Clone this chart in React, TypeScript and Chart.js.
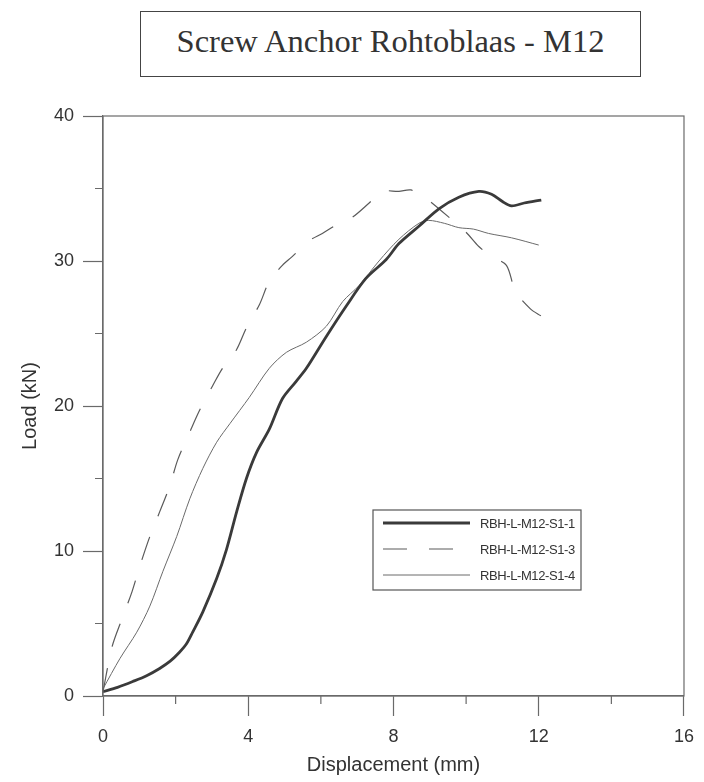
import React, { useEffect, useRef } from "react";
import { Chart, registerables } from "chart.js";

Chart.register(...registerables);

const TITLE = "Screw Anchor Rohtoblaas - M12";
const X_TITLE = "Displacement (mm)";
const Y_TITLE = "Load (kN)";

const SERIES_NAMES = ["RBH-L-M12-S1-1", "RBH-L-M12-S1-3", "RBH-L-M12-S1-4"];

const S1_1_X = [0, 0.4, 0.82, 1.2, 1.56, 1.85, 2.1, 2.3, 2.47, 2.75, 3.13, 3.4, 3.68, 3.95, 4.23, 4.58, 4.94, 5.32, 5.6, 6.15, 6.7, 7.24, 7.8, 8.15, 8.7, 9.25, 9.8, 10.35, 10.7, 11.0, 11.25, 11.6, 12.07];
const S1_1_Y = [0.3, 0.6, 1.0, 1.4, 1.9, 2.4, 3.0, 3.6, 4.4, 5.8, 8.1, 10.1, 12.7, 15.0, 16.8, 18.4, 20.5, 21.7, 22.6, 24.8, 26.9, 28.8, 30.1, 31.2, 32.4, 33.6, 34.4, 34.8, 34.6, 34.1, 33.8, 34.0, 34.2];

const S1_3_X = [0, 0.25, 0.52, 0.8, 1.02, 1.29, 1.56, 1.84, 2.06, 2.39, 2.66, 3.02, 3.29, 3.68, 3.95, 4.31, 4.58, 4.94, 5.21, 5.68, 6.04, 6.5, 6.86, 7.33, 7.68, 8.15, 8.48, 8.9, 9.25, 9.99, 10.35, 10.7, 11.11, 11.36, 11.77, 12.07];
const S1_3_Y = [0.3, 3.4, 5.3, 7.2, 9.0, 11.0, 12.7, 14.5, 16.3, 18.2, 19.7, 21.4, 22.6, 23.9, 25.4, 27.0, 28.6, 29.7, 30.3, 31.4, 31.9, 32.6, 33.0, 34.0, 34.8, 34.8, 34.9, 34.3, 33.6, 32.0, 31.0, 30.3, 29.7, 27.9, 26.7, 26.2];

const S1_4_X = [0, 0.47, 0.93, 1.29, 1.65, 2.03, 2.39, 2.75, 3.13, 3.5, 4.03, 4.58, 5.05, 5.6, 6.15, 6.6, 7.05, 7.6, 8.15, 8.7, 8.97, 9.4, 9.8, 10.2, 10.62, 11.25, 12.0];
const S1_4_Y = [0.5, 2.6, 4.4, 6.2, 8.6, 11.0, 13.6, 15.7, 17.5, 18.8, 20.6, 22.6, 23.7, 24.4, 25.5, 27.2, 28.3, 30.0, 31.5, 32.6, 32.8, 32.6, 32.3, 32.2, 31.9, 31.6, 31.1];

const X_MIN = 0, X_MAX = 16, X_STEP = 2, X_LABEL_EVERY = 4;
const Y_MIN = 0, Y_MAX = 40, Y_STEP = 5, Y_LABEL_EVERY = 10;

const pts = (xs: number[], ys: number[]) => xs.map((x, i) => ({ x, y: ys[i] }));

const AXIS_COLOR = "#6a6a6a";
const TEXT_COLOR = "#333333";
const SANS = "'Liberation Sans', Arial, sans-serif";

const framePlugin = {
  id: "frameAndLegend",
  afterDraw(chart: any) {
    const { ctx, chartArea } = chart;
    const xs = chart.scales.x;
    const ys = chart.scales.y;
    ctx.save();
    // frame
    ctx.strokeStyle = AXIS_COLOR;
    ctx.lineWidth = 1.2;
    ctx.strokeRect(chartArea.left, chartArea.top, chartArea.right - chartArea.left, chartArea.bottom - chartArea.top);
    // minor ticks
    ctx.beginPath();
    for (let v = X_MIN; v <= X_MAX; v += X_STEP) {
      if (v % X_LABEL_EVERY !== 0) {
        const px = xs.getPixelForValue(v);
        ctx.moveTo(px, chartArea.bottom);
        ctx.lineTo(px, chartArea.bottom + 8);
      }
    }
    for (let v = Y_MIN; v <= Y_MAX; v += Y_STEP) {
      if (v % Y_LABEL_EVERY !== 0) {
        const py = ys.getPixelForValue(v);
        ctx.moveTo(chartArea.left, py);
        ctx.lineTo(chartArea.left - 8, py);
      }
    }
    ctx.stroke();

    // legend
    const lx = 373, ly = 510, lw = 208, lh = 80;
    ctx.fillStyle = "#ffffff";
    ctx.fillRect(lx, ly, lw, lh);
    ctx.strokeStyle = "#555";
    ctx.lineWidth = 1.2;
    ctx.strokeRect(lx, ly, lw, lh);
    ctx.font = "13px " + SANS;
    ctx.textBaseline = "middle";
    ctx.textAlign = "left";
    try { (ctx as any).letterSpacing = "-0.4px"; } catch (e) {}
    chart.data.datasets.forEach((ds: any, i: number) => {
      const ry = ly + 13 + i * 26;
      ctx.strokeStyle = ds.borderColor;
      ctx.lineWidth = ds.borderWidth;
      ctx.setLineDash(ds.borderDash || []);
      ctx.beginPath();
      ctx.moveTo(383, ry);
      ctx.lineTo(470, ry);
      ctx.stroke();
      ctx.setLineDash([]);
      ctx.fillStyle = TEXT_COLOR;
      ctx.fillText(ds.label, 480, ry + 1);
    });
    ctx.restore();
  },
};

export default function App() {
  const ref = useRef<HTMLCanvasElement | null>(null);
  useEffect(() => {
    if (!ref.current) return;
    const chart = new Chart(ref.current, {
      type: "scatter",
      data: {
        datasets: [
          {
            label: SERIES_NAMES[0],
            data: pts(S1_1_X, S1_1_Y),
            showLine: true,
            borderColor: "#3a3a3a",
            borderWidth: 2.8,
            pointRadius: 0,
            tension: 0.3,
          },
          {
            label: SERIES_NAMES[1],
            data: pts(S1_3_X, S1_3_Y),
            showLine: true,
            borderColor: "#5a5a5a",
            borderWidth: 1.2,
            borderDash: [24, 22],
            pointRadius: 0,
            tension: 0.3,
          },
          {
            label: SERIES_NAMES[2],
            data: pts(S1_4_X, S1_4_Y),
            showLine: true,
            borderColor: "#6a6a6a",
            borderWidth: 1,
            pointRadius: 0,
            tension: 0.3,
          },
        ],
      },
      options: {
        responsive: false,
        animation: false,
        layout: { padding: { top: 116, right: 14, left: 0, bottom: 0 } },
        plugins: { legend: { display: false }, tooltip: { enabled: false }, title: { display: false } },
        scales: {
          x: {
            type: "linear",
            min: X_MIN,
            max: X_MAX,
            afterFit: (s: any) => { s.height = 86; },
            ticks: {
              stepSize: X_STEP,
              autoSkip: false,
              maxRotation: 0,
              padding: 10,
              color: TEXT_COLOR,
              font: { size: 18, family: SANS },
              callback: (v: any) => (Number(v) % X_LABEL_EVERY === 0 ? String(v) : ""),
            },
            grid: {
              drawOnChartArea: false,
              drawTicks: true,
              tickLength: 20,
              tickWidth: 1.2,
              tickColor: (c: any) => (c.tick && c.tick.value % X_LABEL_EVERY === 0 ? AXIS_COLOR : "rgba(0,0,0,0)"),
            },
            border: { color: AXIS_COLOR, width: 1.2 },
            title: { display: true, text: X_TITLE, color: TEXT_COLOR, font: { size: 20, family: SANS }, padding: { top: 0, bottom: 5 } },
          },
          y: {
            type: "linear",
            min: Y_MIN,
            max: Y_MAX,
            afterFit: (s: any) => { s.width = 103; },
            ticks: {
              stepSize: Y_STEP,
              autoSkip: false,
              padding: 9,
              color: TEXT_COLOR,
              font: { size: 18, family: SANS },
              callback: (v: any) => (Number(v) % Y_LABEL_EVERY === 0 ? String(v) : ""),
            },
            grid: {
              drawOnChartArea: false,
              drawTicks: true,
              tickLength: 20,
              tickWidth: 1.2,
              tickColor: (c: any) => (c.tick && c.tick.value % Y_LABEL_EVERY === 0 ? AXIS_COLOR : "rgba(0,0,0,0)"),
            },
            border: { color: AXIS_COLOR, width: 1.2 },
            title: { display: true, text: Y_TITLE, color: TEXT_COLOR, font: { size: 20, family: SANS }, padding: { top: 18, bottom: 0 } },
          },
        },
      },
      plugins: [framePlugin],
    });
    return () => chart.destroy();
  }, []);

  return (
    <div style={{ position: "absolute", left: 0, top: 0, width: 704, height: 782, background: "#fff" }}>
      <div
        style={{
          position: "absolute",
          left: 140,
          top: 11,
          width: 501,
          height: 66,
          boxSizing: "border-box",
          border: "1.5px solid #444",
          display: "flex",
          alignItems: "center",
          justifyContent: "center",
          paddingBottom: 6,
          fontFamily: "'Liberation Serif', 'Times New Roman', serif",
          fontSize: 32.5,
          color: "#333",
        }}
      >
        {TITLE}
      </div>
      <canvas ref={ref} width={704} height={782} style={{ position: "absolute", left: 0, top: 0 }} />
    </div>
  );
}
